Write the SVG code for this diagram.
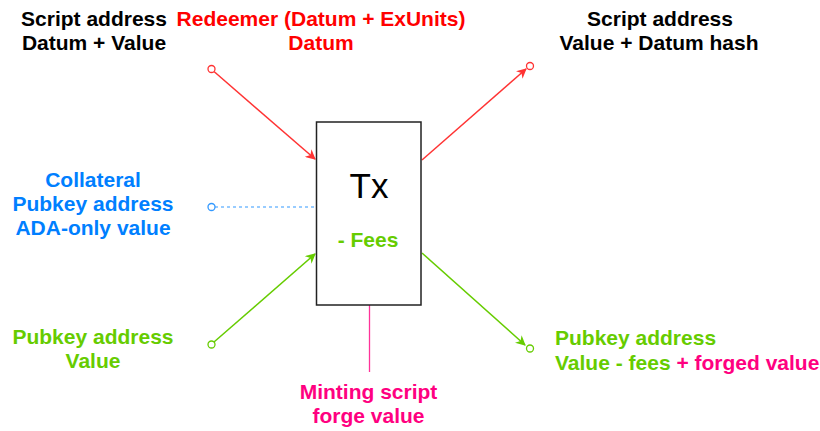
<svg xmlns="http://www.w3.org/2000/svg" width="820" height="431" viewBox="0 0 820 431">
<style>
text{font-family:"Liberation Sans",Arial,sans-serif;font-size:21px;font-weight:bold;text-anchor:middle}
.blk{fill:#000}
.red{fill:#FF0000}
.blu{fill:#007FFF}
.grn{fill:#66CC00}
.pnk{fill:#FF0080}
.end{fill:#fff;stroke-width:1.3}
</style>
<defs>
<marker id="ar" viewBox="0 0 10 10" refX="9" refY="5" markerWidth="10" markerHeight="10" markerUnits="userSpaceOnUse" orient="auto">
<path d="M0,0 L10,5 L0,10 L3,5 Z" fill="#FF3333"/>
</marker>
<marker id="ag" viewBox="0 0 10 10" refX="9" refY="5" markerWidth="10" markerHeight="10" markerUnits="userSpaceOnUse" orient="auto">
<path d="M0,0 L10,5 L0,10 L3,5 Z" fill="#66CC00"/>
</marker>
</defs>
<rect width="820" height="431" fill="#fff"/>
<g id="connectors" fill="none" stroke-width="1.5">
<line x1="214" y1="71.5" x2="315" y2="159" stroke="#FF3333" marker-end="url(#ar)"/>
<circle class="end" cx="211.5" cy="69" r="3.5" stroke="#FF3333"/>
<line x1="422" y1="160" x2="526" y2="69" stroke="#FF3333" marker-end="url(#ar)"/>
<circle class="end" cx="530" cy="66" r="3.5" stroke="#FF3333"/>
<line x1="215" y1="207" x2="316" y2="207" stroke="#3399FF" stroke-dasharray="3,3" stroke-width="1.2"/>
<circle class="end" cx="211.5" cy="207" r="3.5" stroke="#3399FF"/>
<line x1="214" y1="342" x2="315" y2="254" stroke="#66CC00" marker-end="url(#ag)"/>
<circle class="end" cx="211.5" cy="344.5" r="3.5" stroke="#66CC00"/>
<line x1="422" y1="253" x2="525" y2="345" stroke="#66CC00" marker-end="url(#ag)"/>
<circle class="end" cx="530" cy="348.5" r="3.5" stroke="#66CC00"/>
<line x1="369.5" y1="305" x2="369.5" y2="372" stroke="#FF3399" stroke-width="1.3"/>
</g>
<g id="tx">
<rect x="316.5" y="122" width="104.5" height="183" fill="#fff" stroke="#222" stroke-width="1.5"/>
<text x="369" y="198" class="blk" style="font-weight:normal;font-size:35px">Tx</text>
<text x="368" y="247" class="grn">- Fees</text>
</g>
<g id="script-in">
<text x="94" y="26" class="blk">Script address</text>
<text x="94" y="50" class="blk">Datum + Value</text>
</g>
<g id="redeemer">
<text x="321" y="26" class="red">Redeemer (Datum + ExUnits)</text>
<text x="321" y="50" class="red">Datum</text>
</g>
<g id="script-out">
<text x="660" y="26" class="blk">Script address</text>
<text x="659" y="50" class="blk">Value + Datum hash</text>
</g>
<g id="collateral">
<text x="93" y="187" class="blu">Collateral</text>
<text x="93" y="211" class="blu">Pubkey address</text>
<text x="93" y="235" class="blu">ADA-only value</text>
</g>
<g id="pubkey-in">
<text x="93" y="344" class="grn">Pubkey address</text>
<text x="93" y="368" class="grn">Value</text>
</g>
<g id="pubkey-out">
<text x="555" y="345" class="grn" style="text-anchor:start">Pubkey address</text>
<text x="555" y="370" class="grn" style="text-anchor:start">Value - fees <tspan class="pnk">+ forged value</tspan></text>
</g>
<g id="minting">
<text x="368.5" y="399" class="pnk">Minting script</text>
<text x="368.5" y="423" class="pnk">forge value</text>
</g>
</svg>
